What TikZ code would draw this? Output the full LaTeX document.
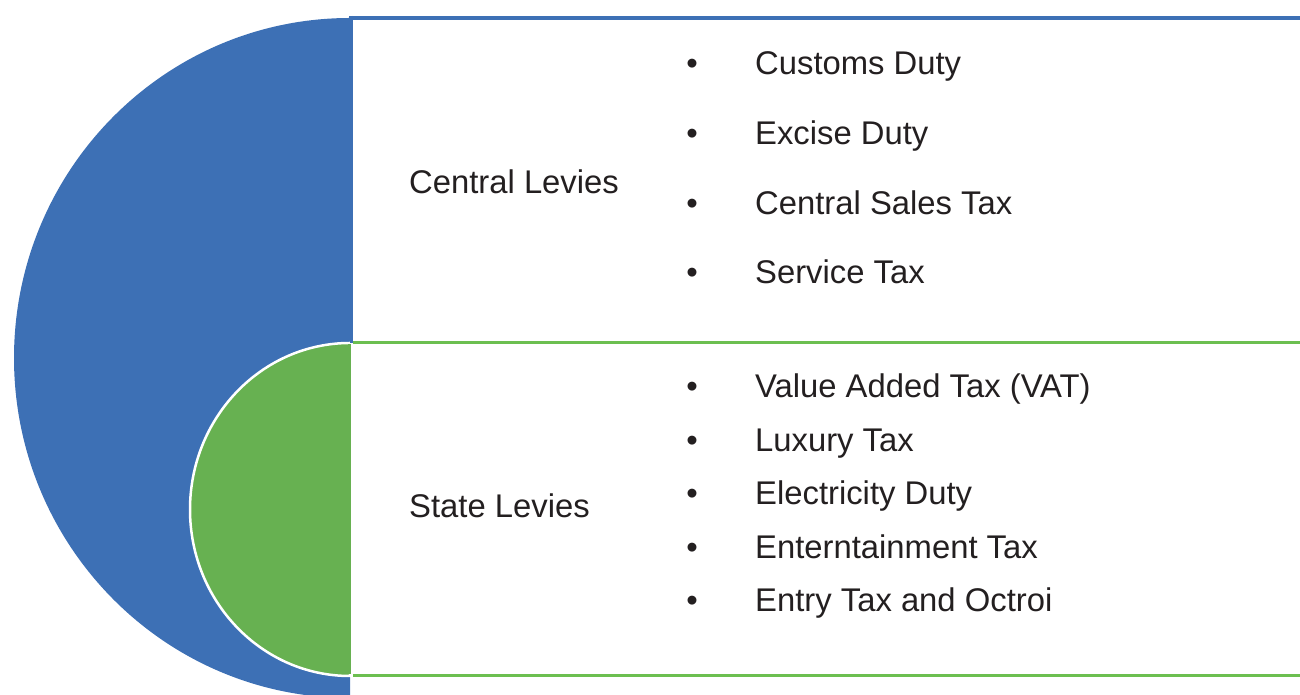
\documentclass[tikz,border=0pt]{standalone}
\usepackage{fontspec}
\setmainfont{Liberation Sans}
\definecolor{bluef}{HTML}{3D70B5}
\definecolor{greenf}{HTML}{67B151}
\definecolor{greenl}{HTML}{6CBF50}
\definecolor{txt}{HTML}{231F20}
\begin{document}
\begin{tikzpicture}[x=1pt,y=1pt,
  lbl/.style={anchor=base west,inner sep=0pt,text=txt,font=\fontsize{32.8}{39}\selectfont},
  bul/.style={anchor=base,inner sep=0pt,text=txt,font=\fontsize{32.8}{39}\selectfont}]
\useasboundingbox (0,0) rectangle (1300,695);
\clip (0,0) rectangle (1300,695);
% blue half ellipse
\fill[bluef] (350,677) arc[start angle=90,end angle=270,x radius=336pt,y radius=340pt] -- cycle;
% green half ellipse
\fill[greenf,draw=white,line width=2.5pt] (350,352) arc[start angle=90,end angle=270,x radius=160pt,y radius=166.5pt] -- cycle;
\fill[greenf] (348,350.5) rectangle (351,20.5);
% frame lines
\draw[bluef,line width=4pt] (349,677) -- (1300,677);
\draw[bluef,line width=3pt] (351.5,679) -- (351.5,352);
\draw[greenl,line width=3pt] (353,352) -- (1300,352);
\draw[greenl,line width=3pt] (353,19) -- (1300,19);
% texts
\node[lbl] (cl) at (409,501.5) {Central Levies};
\node[bul] (b1) at (692,620.5) {•};
\node[lbl] (c1) at (755,620.5) {Customs Duty};
\node[bul] (b2) at (692,550.5) {•};
\node[lbl] (c2) at (755,550.5) {Excise Duty};
\node[bul] (b3) at (692,480.5) {•};
\node[lbl] (c3) at (755,480.5) {Central Sales Tax};
\node[bul] (b4) at (692,411.5) {•};
\node[lbl] (c4) at (755,411.5) {Service Tax};
\node[lbl] (sl) at (409,177.5) {State Levies};
\node[bul] (s1b) at (692,297.5) {•};
\node[lbl] (s1) at (755,297.5) {Value Added Tax (VAT)};
\node[bul] (s2b) at (692,243.5) {•};
\node[lbl] (s2) at (755,243.5) {Luxury Tax};
\node[bul] (s3b) at (692,190.5) {•};
\node[lbl] (s3) at (755,190.5) {Electricity Duty};
\node[bul] (s4b) at (692,136.5) {•};
\node[lbl] (s4) at (755,136.5) {Enterntainment Tax};
\node[bul] (s5b) at (692,83.5) {•};
\node[lbl] (s5) at (755,83.5) {Entry Tax and Octroi};
\end{tikzpicture}
\end{document}
